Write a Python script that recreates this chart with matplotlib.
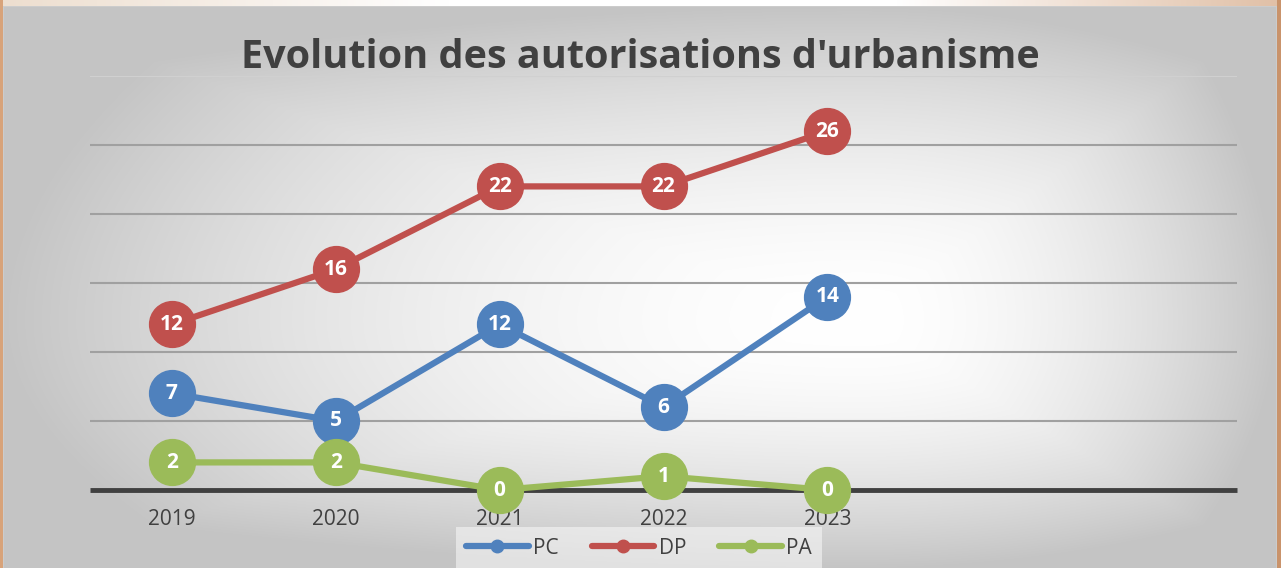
import numpy as np
import matplotlib
matplotlib.use("Agg")
import matplotlib.pyplot as plt
from matplotlib.lines import Line2D

# ---- data ----
categories = ["2019", "2020", "2021", "2022", "2023", "", ""]
pc = [7, 5, 12, 6, 14]
dp = [12, 16, 22, 22, 26]
pa = [2, 2, 0, 1, 0]
series_names = ["PC", "DP", "PA"]
series_colors = ["#4f81bd", "#c0504d", "#9bbb59"]
title = "Evolution des autorisations d'urbanisme"

W, H = 1281, 568
fig = plt.figure(figsize=(W / 100, H / 100), dpi=100)

# ---- background (border + path gradient) ----
yy, xx = np.mgrid[0:H, 0:W].astype(float)
x0, x1, y0, y1 = 3, 1276, 6, 568
cx, cy = 860, 320
dx = np.where(xx < cx, (cx - xx) / (cx - x0), (xx - cx) / (x1 - cx))
dy = np.where(yy < cy, (cy - yy) / (cy - y0), (yy - cy) / (y1 - cy))
d = np.clip(np.sqrt(dx ** 2 + dy ** 2) * 0.5 + np.maximum(dx, dy) * 0.5, 0, 1)
g = 1.0 - (1.0 - 0.77) * d ** 1.8
img = np.dstack([g, g, g])
# border
t = xx / W
top_col = np.dstack([
    np.interp(t, [0, 0.35, 0.7, 1], [0.93, 1.0, 1.0, 0.88]),
    np.interp(t, [0, 0.35, 0.7, 1], [0.87, 1.0, 1.0, 0.75]),
    np.interp(t, [0, 0.35, 0.7, 1], [0.81, 1.0, 1.0, 0.65]),
])
border = (xx < x0) | (xx > x1) | (yy < y0)
img[border] = top_col[border]
img[xx < x0] = [0.85, 0.64, 0.48]
img[xx > x1] = [0.79, 0.58, 0.42]
edge = ((np.abs(yy - y0) < 1) & (xx >= x0) & (xx <= x1)) | \
       ((np.abs(xx - x0) < 1) & (yy >= y0)) | ((np.abs(xx - x1) < 1) & (yy >= y0))
img[edge] = [0.80, 0.80, 0.80]

bg = fig.add_axes([0, 0, 1, 1])
bg.imshow(img, aspect="auto", extent=(0, W, H, 0), interpolation="bilinear")
bg.set_axis_off()

# ---- main axes ----
ax = fig.add_axes([90 / W, 1 - 490 / H, (1237 - 90) / W, (490 - 76) / H])
ax.set_facecolor("none")
ax.set_zorder(2)
xs = np.arange(len(categories))
ax.set_xlim(-0.5, len(categories) - 0.5)
ax.set_ylim(0, 30)
ax.set_yticks(np.arange(5, 31, 5))
ax.yaxis.grid(True, color="#a0a0a0", linewidth=1.5)
ax.get_ygridlines()[-1].set_color("#d0d0d0")
ax.set_axisbelow(True)
for s in ax.spines.values():
    s.set_visible(False)
ax.axhline(0, color="#404040", linewidth=3.5, zorder=1.5, clip_on=False,
           solid_capstyle="butt")
ax.tick_params(axis="y", length=0, labelleft=False)
ax.tick_params(axis="x", length=0, pad=14)
ax.set_xticks(xs)
ax.set_xticklabels(categories, fontsize=15, color="#404040", family="Open Sans")

handles = []
for vals, name, col in zip([pc, dp, pa], series_names, series_colors):
    n = len(vals)
    ax.plot(xs[:n], vals, color=col, linewidth=4.5, marker="o", markersize=33,
            markerfacecolor=col, markeredgecolor=col, clip_on=False, zorder=3)
    for xi, v in zip(xs[:n], vals):
        ax.text(xi, v, str(v), ha="center", va="center", color="white",
                fontsize=15, fontweight="bold", family="Open Sans", zorder=4)
    handles.append(Line2D([0], [0], color=col, linewidth=4.5, marker="o",
                          markersize=9, solid_capstyle="round"))

fig.text(640 / W, 1 - 57 / H, title, ha="center", va="center", fontsize=28.5,
         fontweight="bold", color="#404040", family="Open Sans")

leg = fig.legend(handles, series_names, loc="center", bbox_to_anchor=(639 / W, 1 - 548 / H),
                 ncol=3, frameon=True, fontsize=15, handlelength=3.0, handletextpad=0.2,
                 columnspacing=1.6, borderpad=0.5)
leg.get_frame().set_facecolor("#f6f6f6")
leg.get_frame().set_edgecolor("none")
leg.get_frame().set_alpha(0.6)
leg.get_frame().set_boxstyle("square", pad=0.0)
for t_ in leg.get_texts():
    t_.set_color("#404040")
    t_.set_family("Open Sans")

fig.savefig("out.png", dpi=100)
